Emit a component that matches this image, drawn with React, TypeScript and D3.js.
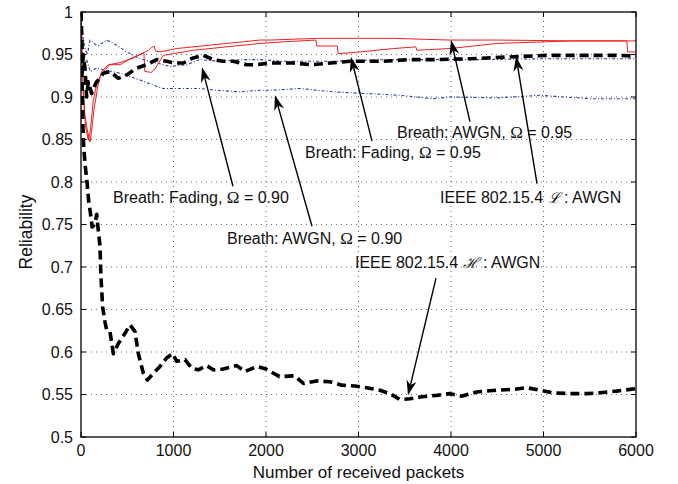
import React from "react";
import * as d3 from "d3";

// ---- data ----
const xTicks = [0, 1000, 2000, 3000, 4000, 5000, 6000];
const yTicks = [0.5, 0.55, 0.6, 0.65, 0.7, 0.75, 0.8, 0.85, 0.9, 0.95, 1];

const ieeeHx = [0, 5, 10, 15, 20, 30, 45, 65, 85, 100, 120, 150, 170, 185, 205, 215, 234, 260, 277, 313, 350, 404, 476, 530, 584, 620, 674, 718, 782, 854, 926, 991, 1035, 1124, 1196, 1268, 1358, 1430, 1537, 1683, 1773, 1900, 2000, 2146, 2308, 2404, 2548, 2692, 2818, 2962, 3088, 3232, 3341, 3449, 3557, 3665, 3845, 3989, 4115, 4277, 4494, 4674, 4818, 4962, 5106, 5286, 5467, 5611, 5791, 6000];
const ieeeHy = [1.0, 0.97, 0.93, 0.9, 0.87, 0.84, 0.82, 0.8, 0.775, 0.765, 0.747, 0.75, 0.762, 0.745, 0.725, 0.69, 0.653, 0.635, 0.626, 0.624, 0.598, 0.61, 0.622, 0.632, 0.624, 0.598, 0.575, 0.567, 0.575, 0.583, 0.593, 0.598, 0.589, 0.591, 0.581, 0.579, 0.584, 0.579, 0.58, 0.584, 0.577, 0.583, 0.58, 0.571, 0.572, 0.563, 0.566, 0.565, 0.561, 0.56, 0.558, 0.555, 0.551, 0.544, 0.545, 0.547, 0.549, 0.551, 0.548, 0.553, 0.555, 0.556, 0.558, 0.555, 0.552, 0.551, 0.551, 0.552, 0.554, 0.557];

const ieeeLx = [0, 8, 15, 25, 43, 61, 79, 115, 133, 169, 205, 241, 313, 404, 494, 602, 710, 818, 926, 1016, 1106, 1214, 1322, 1430, 1538, 1646, 1790, 1898, 2043, 2295, 2494, 2908, 3268, 3557, 3845, 4205, 4602, 5034, 5430, 5827, 6000];
const ieeeLy = [1.0, 0.97, 0.93, 0.95, 0.934, 0.9, 0.918, 0.904, 0.91, 0.918, 0.922, 0.928, 0.93, 0.922, 0.926, 0.934, 0.938, 0.944, 0.942, 0.94, 0.94, 0.946, 0.949, 0.944, 0.942, 0.942, 0.938, 0.938, 0.94, 0.94, 0.938, 0.942, 0.942, 0.944, 0.944, 0.945, 0.947, 0.949, 0.949, 0.949, 0.948];

const awgn95x = [0, 10, 25, 50, 79, 100, 133, 170, 205, 260, 313, 422, 530, 656, 728, 760, 790, 805, 854, 1034, 1214, 1394, 1575, 1755, 1935, 2043, 2548, 3376, 3989, 4500, 5313, 5863, 6000];
const awgn95y = [1.0, 0.95, 0.9, 0.865, 0.849, 0.86, 0.896, 0.915, 0.924, 0.932, 0.938, 0.938, 0.945, 0.951, 0.955, 0.958, 0.96, 0.954, 0.953, 0.957, 0.959, 0.961, 0.963, 0.965, 0.967, 0.967, 0.969, 0.969, 0.967, 0.967, 0.966, 0.966, 0.966];

const fading95x = [0, 15, 40, 70, 97, 115, 140, 180, 223, 295, 404, 548, 640, 680, 690, 760, 800, 890, 1214, 1575, 1935, 2200, 2540, 2550, 2770, 2780, 3016, 3376, 3620, 3630, 3989, 4500, 5313, 5900, 5910, 6000];
const fading95y = [1.0, 0.93, 0.88, 0.86, 0.847, 0.86, 0.885, 0.912, 0.93, 0.938, 0.94, 0.945, 0.95, 0.952, 0.93, 0.929, 0.933, 0.949, 0.955, 0.959, 0.963, 0.965, 0.967, 0.96, 0.96, 0.951, 0.953, 0.957, 0.959, 0.955, 0.957, 0.963, 0.966, 0.966, 0.953, 0.953];

const fading90x = [0, 10, 25, 43, 70, 97, 180, 277, 385, 494, 638, 818, 962, 1142, 1286, 1503, 1755, 1935, 2187, 2728, 3300, 3845, 4300, 5000, 5500, 6000];
const fading90y = [1.0, 0.96, 0.97, 0.957, 0.95, 0.967, 0.96, 0.967, 0.961, 0.953, 0.945, 0.94, 0.936, 0.938, 0.944, 0.942, 0.944, 0.944, 0.942, 0.942, 0.944, 0.944, 0.944, 0.945, 0.945, 0.945];

const awgn90x = [0, 15, 30, 61, 100, 169, 241, 422, 530, 638, 782, 890, 1070, 1286, 1467, 1719, 1935, 2079, 2368, 2728, 3088, 3449, 3809, 3989, 4500, 4962, 5503, 6000];
const awgn90y = [1.0, 0.95, 0.93, 0.944, 0.93, 0.934, 0.932, 0.928, 0.924, 0.92, 0.914, 0.91, 0.91, 0.91, 0.908, 0.906, 0.908, 0.908, 0.91, 0.906, 0.904, 0.902, 0.898, 0.9, 0.899, 0.902, 0.898, 0.898];

const annLabels = ["Breath: AWGN, ", "Breath: Fading, ", "IEEE 802.15.4 ", "Breath: Fading, ", "Breath: AWGN, ", "IEEE 802.15.4 "];
const annSymbols = ["Ω", "Ω", "ℒ", "Ω", "Ω", "ℋ"];
const annTails = [" = 0.95", " = 0.95", " : AWGN", " = 0.90", " = 0.90", " : AWGN"];
const annTextX = [3416, 2422, 3881, 346, 1578, 2962];
const annTextY = [0.852, 0.828, 0.775, 0.775, 0.727, 0.699];
const arrowTipX = [4000, 2919, 4703, 1308, 2097, 3535];
const arrowTipY = [0.967, 0.947, 0.948, 0.935, 0.902, 0.549];
const arrowTailX = [4205, 3146, 4930, 1643, 2497, 3838];
const arrowTailY = [0.871, 0.848, 0.798, 0.795, 0.748, 0.687];

const W = 678, H = 484;
const M = { left: 81, right: 42, top: 12, bottom: 47 };

export default function App() {
  const x = d3.scaleLinear().domain([0, 6000]).range([M.left, W - M.right]);
  const y = d3.scaleLinear().domain([0.5, 1]).range([H - M.bottom, M.top]);
  const line = d3.line<[number, number]>().x(d => x(d[0])).y(d => y(d[1]));
  const pts = (xs: number[], ys: number[]) => xs.map((v, i) => [v, ys[i]] as [number, number]);

  const x0 = x(0), x1 = x(6000), y0 = y(0.5), y1 = y(1);
  const font = "'Liberation Sans', Arial, Helvetica, sans-serif";

  const series = [
    { d: pts(awgn90x, awgn90y), stroke: "#2a3ba0", w: 1.1, dash: "3,2,1,2" },
    { d: pts(fading90x, fading90y), stroke: "#2a3ba0", w: 1.1, dash: "3,2,1,2" },
    { d: pts(awgn95x, awgn95y), stroke: "#f02020", w: 1, dash: "" },
    { d: pts(fading95x, fading95y), stroke: "#f02020", w: 1, dash: "" },
    { d: pts(ieeeLx, ieeeLy), stroke: "#000", w: 3.6, dash: "9,5" },
    { d: pts(ieeeHx, ieeeHy), stroke: "#000", w: 3.6, dash: "9,5" },
  ];

  const arrow = (i: number) => {
    const tx = x(arrowTipX[i]), ty = y(arrowTipY[i]);
    const sx = x(arrowTailX[i]), sy = y(arrowTailY[i]);
    const ang = Math.atan2(ty - sy, tx - sx);
    const L = 15, Wd = 5;
    const bx = tx - L * Math.cos(ang), by = ty - L * Math.sin(ang);
    const nx = -Math.sin(ang), ny = Math.cos(ang);
    const mx = tx - L * 0.7 * Math.cos(ang), my = ty - L * 0.7 * Math.sin(ang);
    const head = `M${tx},${ty} L${bx + nx * Wd},${by + ny * Wd} L${mx},${my} L${bx - nx * Wd},${by - ny * Wd} Z`;
    return (
      <g key={"a" + i}>
        <line x1={sx} y1={sy} x2={mx} y2={my} stroke="#000" strokeWidth={1.4} />
        <path d={head} fill="#000" />
      </g>
    );
  };

  return (
    <svg width={W} height={H} style={{ position: "absolute", left: 0, top: 0, background: "#fff" }}>
      <rect x={0} y={0} width={W} height={H} fill="#fff" />
      {xTicks.slice(1, -1).map(t => (
        <line key={"gx" + t} x1={x(t)} x2={x(t)} y1={y0} y2={y1} stroke="#444" strokeWidth={0.8} strokeDasharray="1,4" />
      ))}
      {yTicks.slice(1, -1).map(t => (
        <line key={"gy" + t} x1={x0} x2={x1} y1={y(t)} y2={y(t)} stroke="#444" strokeWidth={0.8} strokeDasharray="1,4" />
      ))}
      <defs>
        <clipPath id="clip">
          <rect x={x0} y={y1 - 2} width={x1 - x0} height={y0 - y1 + 2} />
        </clipPath>
      </defs>
      <g clipPath="url(#clip)">
        {series.map((s, i) => (
          <path key={"s" + i} d={line(s.d) || ""} fill="none" stroke={s.stroke} strokeWidth={s.w} strokeDasharray={s.dash || undefined} strokeLinejoin="round" />
        ))}
      </g>
      <rect x={x0} y={y1} width={x1 - x0} height={y0 - y1} fill="none" stroke="#000" strokeWidth={1.3} />
      {xTicks.map(t => (
        <g key={"tx" + t}>
          <line x1={x(t)} x2={x(t)} y1={y0} y2={y0 - 5} stroke="#000" />
          <line x1={x(t)} x2={x(t)} y1={y1} y2={y1 + 5} stroke="#000" />
          <text x={x(t)} y={y0 + 19} textAnchor="middle" fontSize={16} fontFamily={font} fill="#111">{t}</text>
        </g>
      ))}
      {yTicks.map(t => (
        <g key={"ty" + t}>
          <line x1={x0} x2={x0 + 5} y1={y(t)} y2={y(t)} stroke="#000" />
          <line x1={x1} x2={x1 - 5} y1={y(t)} y2={y(t)} stroke="#000" />
          <text x={x0 - 8} y={y(t)} dy="0.36em" textAnchor="end" fontSize={16} fontFamily={font} fill="#111">{String(t)}</text>
        </g>
      ))}
      <text x={(x0 + x1) / 2} y={478} textAnchor="middle" fontSize={17} fontFamily={font} fill="#111">Number of received packets</text>
      <text transform={`translate(32,232) rotate(-90)`} textAnchor="middle" fontSize={17.5} fontFamily={font} fill="#111">Reliability</text>
      {annLabels.map((lab, i) => (
        <text key={"l" + i} x={x(annTextX[i])} y={y(annTextY[i])} fontSize={16} fontFamily={font} fill="#111">
          {lab}
          <tspan fontFamily={i === 2 || i === 5 ? "'DejaVu Serif', serif" : "'Liberation Serif', 'DejaVu Serif', serif"} fontStyle={i === 2 || i === 5 ? "italic" : "normal"} fontSize={i === 2 || i === 5 ? 15 : 17}>{annSymbols[i]}</tspan>
          {annTails[i]}
        </text>
      ))}
      {annLabels.map((_, i) => arrow(i))}
    </svg>
  );
}
